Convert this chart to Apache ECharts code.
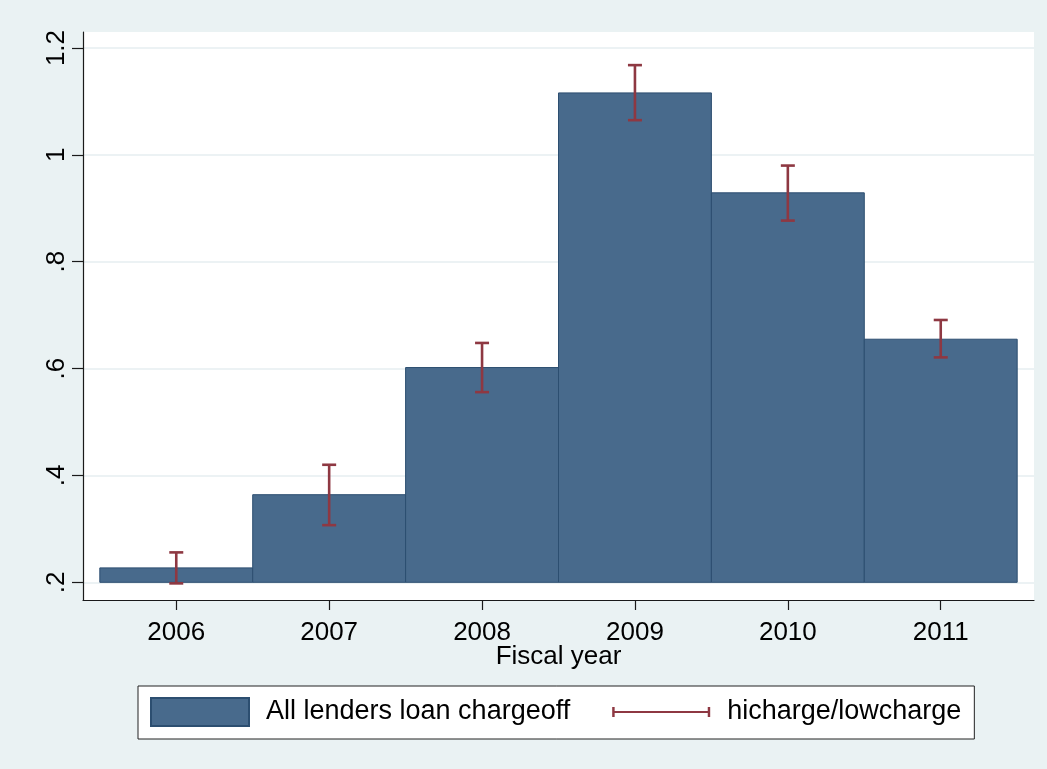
<!DOCTYPE html>
<html>
<head>
<meta charset="utf-8">
<script src="https://cdn.jsdelivr.net/npm/echarts@6/dist/echarts.min.js"></script>
<style>
html,body{margin:0;padding:0;background:#EAF2F3;}
#chart{width:1047px;height:769px;}
</style>
</head>
<body>
<div id="chart"></div>
<script>
// ---- data ----
const years = [2006, 2007, 2008, 2009, 2010, 2011];
const chargeoff = [0.227, 0.364, 0.602, 1.116, 0.929, 0.655];
const hicharge = [0.256, 0.420, 0.648, 1.168, 0.980, 0.691];
const lowcharge = [0.198, 0.307, 0.556, 1.065, 0.877, 0.621];
const yTicks = [0.2, 0.4, 0.6, 0.8, 1.0, 1.2];
const yTickLabels = ['.2', '.4', '.6', '.8', '1', '1.2'];
const xTicks = [2006, 2007, 2008, 2009, 2010, 2011];
const barBase = 0.2;
const seriesNames = ['All lenders loan chargeoff', 'hicharge/lowcharge'];

const barColor = '#486A8C';
const barBorder = '#2C4E70';
const errColor = '#8E3842';
const font = '"Liberation Sans", Arial, sans-serif';

const chart = echarts.init(document.getElementById('chart'), null, {renderer: 'canvas'});

const barData = years.map((y, i) => [y, chargeoff[i]]);
const errData = years.map((y, i) => [y, lowcharge[i], hicharge[i]]);

const option = {
  backgroundColor: '#EAF2F3',
  animation: false,
  textStyle: {fontFamily: font},
  grid: {
    left: 83, top: 32, right: 13, bottom: 169,
    show: true, backgroundColor: '#FFFFFF', borderWidth: 0
  },
  xAxis: {
    type: 'value',
    min: 2005.39, max: 2011.61,
    name: 'Fiscal year',
    nameLocation: 'middle',
    nameGap: 44,
    nameMoveOverlap: false,
    nameTextStyle: {fontSize: 26, color: '#000', fontFamily: font},
    axisLine: {show: true, lineStyle: {color: '#1a1a1a', width: 1.2}},
    axisTick: {show: true, length: 10, customValues: xTicks, lineStyle: {color: '#1a1a1a', width: 1.2}},
    axisLabel: {
      show: true, customValues: xTicks, fontSize: 26, color: '#000', margin: 20,
      fontFamily: font, formatter: v => String(Math.round(v))
    },
    splitLine: {show: false}
  },
  yAxis: {
    type: 'value',
    min: 0.1669, max: 1.230,
    axisLine: {show: true, lineStyle: {color: '#1a1a1a', width: 1.2}},
    axisTick: {show: true, length: 11, customValues: yTicks, lineStyle: {color: '#1a1a1a', width: 1.2}},
    axisLabel: {
      show: true, customValues: yTicks, rotate: 90, fontSize: 26, color: '#000', margin: 13,
      fontFamily: font,
      formatter: v => {
        for (let i = 0; i < yTicks.length; i++) {
          if (Math.abs(yTicks[i] - v) < 1e-6) return yTickLabels[i];
        }
        return '';
      }
    },
    splitLine: {show: true, lineStyle: {color: '#E6EEF0', width: 1.5}}
  },
  legend: {
    show: true,
    left: 138, top: 686,
    orient: 'horizontal',
    padding: [11, 13, 12, 12],
    itemWidth: 98, itemHeight: 28,
    itemGap: 42,
    backgroundColor: '#FFFFFF',
    borderColor: '#222',
    borderWidth: 1,
    borderRadius: 0,
    selectedMode: false,
    textStyle: {fontSize: 27, color: '#000', fontFamily: font, padding: [0, 0, 0, 12]},
    data: [
      {name: seriesNames[0], icon: 'rect'},
      {name: seriesNames[1], icon: 'path://M0,0 M100,28 M0,9 L2.5,9 L2.5,13 L97.5,13 L97.5,9 L100,9 L100,19 L97.5,19 L97.5,15 L2.5,15 L2.5,19 L0,19 Z'}
    ]
  },
  series: [
    {
      name: seriesNames[0],
      type: 'custom',
      itemStyle: {color: barColor, borderColor: barBorder, borderWidth: 1},
      data: barData,
      encode: {x: 0, y: 1},
      renderItem: function (params, api) {
        const x = api.value(0), v = api.value(1);
        const p0 = api.coord([x - 0.5, barBase]);
        const p1 = api.coord([x + 0.5, v]);
        return {
          type: 'rect',
          shape: {x: p0[0], y: p1[1], width: p1[0] - p0[0], height: p0[1] - p1[1]},
          style: {fill: barColor, stroke: barBorder, lineWidth: 1}
        };
      },
      z: 2
    },
    {
      name: seriesNames[1],
      type: 'custom',
      itemStyle: {color: errColor},
      data: errData,
      encode: {x: 0, y: [1, 2]},
      renderItem: function (params, api) {
        const x = api.value(0);
        const lo = api.coord([x, api.value(1)]);
        const hi = api.coord([x, api.value(2)]);
        const hw = 7;
        const st = {stroke: errColor, lineWidth: 2.6, fill: null};
        return {
          type: 'group',
          children: [
            {type: 'line', shape: {x1: lo[0], y1: lo[1], x2: hi[0], y2: hi[1]}, style: st},
            {type: 'line', shape: {x1: lo[0] - hw, y1: lo[1], x2: lo[0] + hw, y2: lo[1]}, style: st},
            {type: 'line', shape: {x1: hi[0] - hw, y1: hi[1], x2: hi[0] + hw, y2: hi[1]}, style: st}
          ]
        };
      },
      z: 3
    }
  ]
};

chart.setOption(option);
</script>
</body>
</html>
